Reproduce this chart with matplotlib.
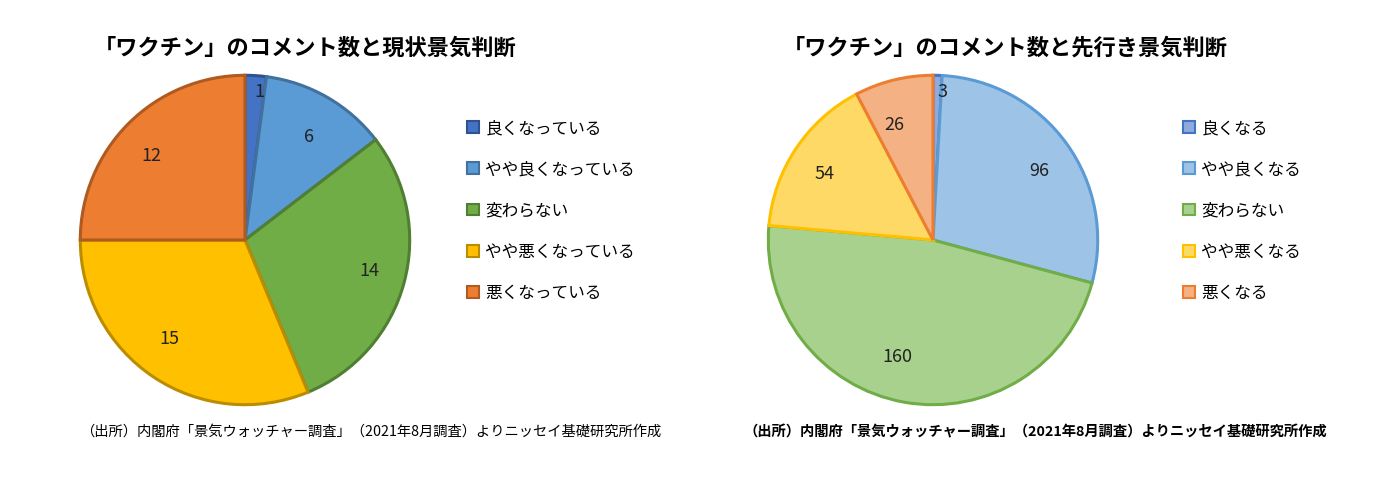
import numpy as np
import matplotlib
matplotlib.use('Agg')
from matplotlib import pyplot as plt, rcParams
from matplotlib.patches import Patch

rcParams['font.family'] = 'Noto Sans CJK JP'

# データ
left_title = '「ワクチン」のコメント数と現状景気判断'
left_labels = ['良くなっている', 'やや良くなっている', '変わらない', 'やや悪くなっている', '悪くなっている']
left_values = [1, 6, 14, 15, 12]
right_title = '「ワクチン」のコメント数と先行き景気判断'
right_labels = ['良くなる', 'やや良くなる', '変わらない', 'やや悪くなる', '悪くなる']
right_values = [3, 96, 160, 54, 26]
source = '（出所）内閣府「景気ウォッチャー調査」（2021年8月調査）よりニッセイ基礎研究所作成'

left_face = ['#4472C4', '#5B9BD5', '#70AD47', '#FFC000', '#ED7D31']
left_edge = ['#2F528F', '#41719C', '#507E32', '#BC8C00', '#AE5A21']
right_face = ['#8FAADC', '#9DC3E6', '#A9D18E', '#FFD966', '#F4B183']
right_edge = ['#4472C4', '#5B9BD5', '#70AD47', '#FFC000', '#ED7D31']

fig = plt.figure(figsize=(13.92, 4.8), dpi=100)


def draw(cx, title, title_x, labels, values, face, edge, legend_x, src_x, bold_src):
    ax = fig.add_axes([(cx - 168) / 1392, (240 - 168) / 480, 336 / 1392, 336 / 480])
    wedges, texts = ax.pie(values, labels=[str(v) for v in values], colors=face,
                           startangle=90, counterclock=False, labeldistance=0.72,
                           wedgeprops=dict(linewidth=2.2),
                           textprops=dict(fontsize=13, color='#222222'))
    for w, e in zip(wedges, edge):
        w.set_edgecolor(e)
    # 小さい扇形のラベルは外側へ
    x, y = texts[0].get_position()
    texts[0].set_position((x * 1.25, y * 1.25))
    ax.set_xlim(-1.02, 1.02)
    ax.set_ylim(-1.02, 1.02)
    fig.text(title_x / 1392, 1 - 48 / 480, title, ha='center', va='center',
             fontsize=16, fontweight='bold')
    handles = [Patch(facecolor=f, edgecolor=e, linewidth=1.5) for f, e in zip(face, edge)]
    fig.legend(handles, labels, loc='upper left', bbox_to_anchor=(legend_x / 1392, 1 - 105 / 480),
               frameon=False, fontsize=12, labelspacing=1.45, handlelength=0.7,
               handleheight=0.7, handletextpad=0.4)
    fig.text(src_x / 1392, 1 - 432 / 480, source, ha='center', va='center',
             fontsize=10.3, fontweight='bold' if bold_src else 'normal')


draw(245, left_title, 305, left_labels, left_values, left_face, left_edge, 452, 371, False)
draw(933, right_title, 1005, right_labels, right_values, right_face, right_edge, 1168, 1035, True)

plt.savefig('out.png', dpi=100)
